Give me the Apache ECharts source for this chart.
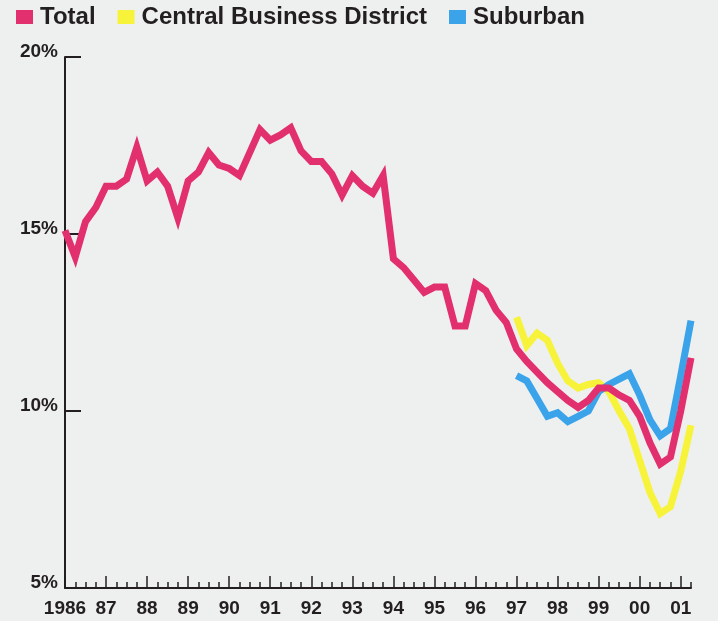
<!DOCTYPE html>
<html>
<head>
<meta charset="utf-8">
<script src="https://cdn.jsdelivr.net/npm/echarts@6/dist/echarts.min.js"></script>
<style>
html, body { margin: 0; padding: 0; background: #eef0f0; }
#chart { width: 718px; height: 621px; }
</style>
</head>
<body>
<div id="chart"></div>
<script>
// quarterly vacancy rates, first quarter of 1986 onward
var startYear = 1986
var years = [1986, 1987, 1988, 1989, 1990, 1991, 1992, 1993, 1994, 1995, 1996, 1997, 1998, 1999, 2000, 2001]
var yTicks = [5, 10, 15, 20]

var total = [15.1, 14.35, 15.35, 15.75, 16.35, 16.35, 16.55, 17.45, 16.5, 16.75,
  16.35, 15.45, 16.5, 16.75, 17.3, 16.95, 16.85, 16.65, 17.3, 17.95,
  17.65, 17.8, 18.0, 17.35, 17.05, 17.05, 16.7, 16.1, 16.65, 16.35,
  16.15, 16.65, 14.3, 14.05, 13.7, 13.35, 13.5, 13.5, 12.4, 12.4,
  13.6, 13.4, 12.85, 12.5, 11.75, 11.4, 11.1, 10.8, 10.55, 10.3,
  10.1, 10.3, 10.65, 10.65, 10.45, 10.3, 9.85, 9.1, 8.5, 8.7,
  10.0, 11.5]

// these two begin in 1997 Q1
var splitStart = 44
var cbd = [12.65, 11.85, 12.2, 12.0, 11.35, 10.85, 10.65, 10.75, 10.8, 10.55,
  10.0, 9.5, 8.6, 7.7, 7.1, 7.3, 8.3, 9.6]
var suburban = [11.0, 10.85, 10.35, 9.85, 9.95, 9.7, 9.85, 10.0, 10.55, 10.75,
  10.9, 11.05, 10.45, 9.75, 9.3, 9.5, 11.0, 12.55]

function toPoints (values, offset) {
  return values.map(function (v, i) {
    return [startYear + (offset + i) / 4, v]
  })
}

var quarterTicks = []
for (var q = 1; q <= (years.length - 1) * 4 + 1; q++) {
  if (q % 4 !== 0) quarterTicks.push(startYear + q / 4)
}

var ink = '#231f20'
var font = 'Liberation Sans, Arial, sans-serif'

var myChart = echarts.init(document.getElementById('chart'))
var option = {
  backgroundColor: '#eef0f0',
  animation: false,
  legend: {
    left: 16,
    top: 5,
    padding: 0,
    icon: 'rect',
    itemWidth: 17,
    itemHeight: 14,
    itemGap: 22,
    data: ['Total', 'Central Business District', 'Suburban'],
    textStyle: {
      fontFamily: font,
      fontWeight: 'bold',
      fontSize: 24,
      color: ink,
      padding: [0, 0, 0, 2]
    }
  },
  grid: {
    left: 65,
    right: 27,
    top: 57,
    bottom: 33,
    containLabel: false
  },
  xAxis: [
    {
      type: 'value',
      min: startYear,
      max: 2001.25,
      position: 'bottom',
      splitLine: { show: false },
      axisLine: { lineStyle: { color: ink, width: 2 } },
      axisTick: {
        inside: true,
        length: 12,
        customValues: years,
        lineStyle: { color: ink, width: 1.5 }
      },
      axisLabel: {
        customValues: years,
        margin: 11,
        color: ink,
        fontFamily: font,
        fontWeight: 'bold',
        fontSize: 19,
        formatter: function (v) {
          if (v === startYear) return String(v)
          var s = String(v % 100)
          return s.length < 2 ? '0' + s : s
        }
      }
    },
    {
      type: 'value',
      min: startYear,
      max: 2001.25,
      position: 'bottom',
      splitLine: { show: false },
      axisLine: { show: false },
      axisTick: {
        inside: true,
        length: 6,
        customValues: quarterTicks,
        lineStyle: { color: ink, width: 1.5 }
      },
      axisLabel: { show: false }
    }
  ],
  yAxis: {
    type: 'value',
    min: 5,
    max: 20,
    interval: 5,
    splitLine: { show: false },
    axisLine: { show: true, lineStyle: { color: ink, width: 2 } },
    axisTick: {
      show: true,
      inside: true,
      length: 16,
      customValues: yTicks,
      lineStyle: { color: ink, width: 2 }
    },
    axisLabel: {
      margin: 7,
      color: ink,
      fontFamily: font,
      fontWeight: 'bold',
      fontSize: 19,
      verticalAlign: 'bottom',
      lineHeight: 10,
      formatter: '{value}%'
    }
  },
  series: [
    {
      name: 'Central Business District',
      type: 'line',
      data: toPoints(cbd, splitStart),
      symbol: 'none',
      color: '#f7f23a',
      lineStyle: { width: 7, join: 'miter' },
      z: 2
    },
    {
      name: 'Suburban',
      type: 'line',
      data: toPoints(suburban, splitStart),
      symbol: 'none',
      color: '#3aa3ea',
      lineStyle: { width: 7, join: 'miter' },
      z: 3
    },
    {
      name: 'Total',
      type: 'line',
      data: toPoints(total, 0),
      symbol: 'none',
      color: '#e2306f',
      lineStyle: { width: 7, join: 'miter' },
      z: 4
    }
  ]
}
myChart.setOption(option, true)
</script>
</body>
</html>
